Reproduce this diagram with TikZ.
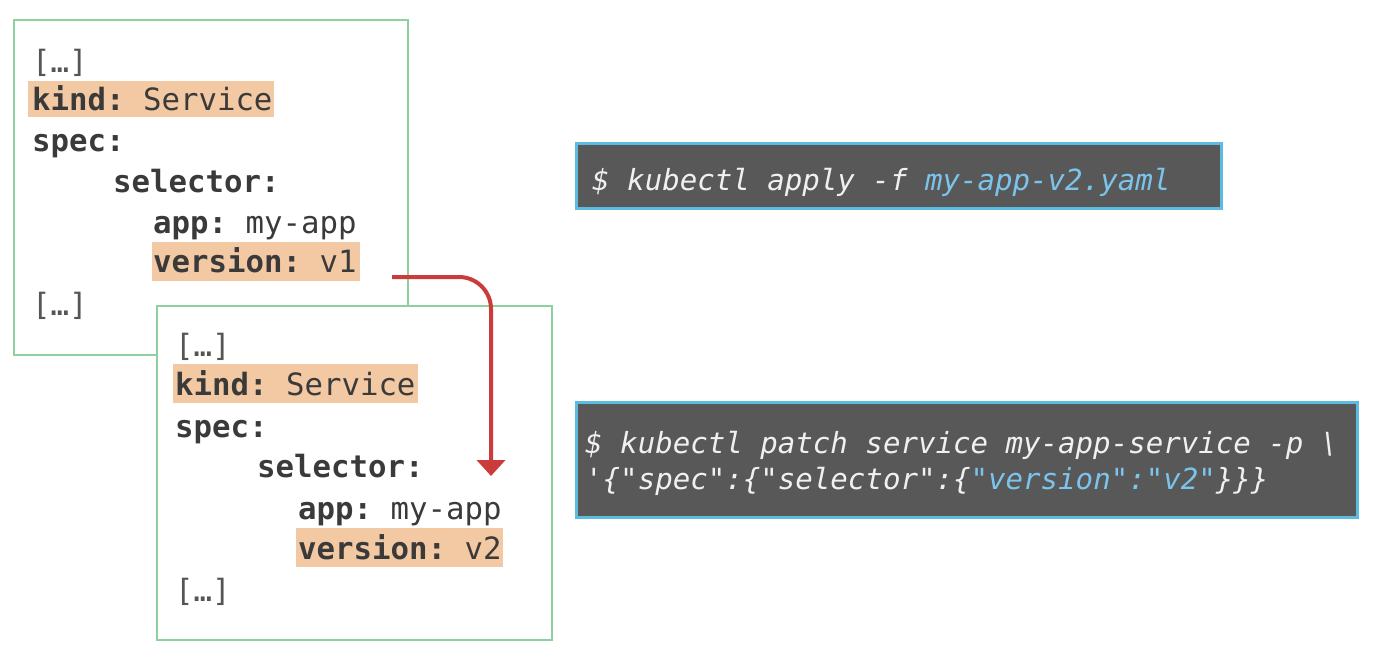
\documentclass[tikz,border=0pt]{standalone}
\usepackage{fontspec}
\setmonofont{DejaVu Sans Mono}
\usetikzlibrary{arrows.meta}
\definecolor{gbox}{HTML}{8FD19E}
\definecolor{peach}{HTML}{F3C9A3}
\definecolor{ytext}{HTML}{3A3A3A}
\definecolor{ygray}{HTML}{555555}
\definecolor{cfill}{HTML}{585858}
\definecolor{cborder}{HTML}{5CBCE0}
\definecolor{ctext}{HTML}{F0F0F0}
\definecolor{cblue}{HTML}{7CC4EC}
\definecolor{rarrow}{HTML}{CC3B3B}
\tikzset{
  yamlbox/.style={draw=gbox, line width=2pt, fill=white, inner sep=0pt},
  yl/.style={anchor=mid west, inner sep=0pt, yshift=-8pt, text=ytext, font=\ttfamily\fontsize{30.7}{36}\selectfont},
  ell/.style={yl, text=ygray},
  cmdbox/.style={draw=cborder, line width=3pt, fill=cfill, inner sep=0pt},
  cl/.style={anchor=mid west, inner sep=0pt, yshift=-8pt, text=ctext, font=\ttfamily\itshape\fontsize{29.1}{34}\selectfont},
  redarrow/.style={draw=rarrow, line width=4pt, rounded corners=32pt, -{Triangle[width=28pt,length=16pt]}}
}
\begin{document}
\begin{tikzpicture}[x=1pt,y=-1pt]
\useasboundingbox[fill=white] (0,0) rectangle (1398,662);
% first YAML box
\node[yamlbox, minimum width=394pt, minimum height=335pt] (box1) at (211,187.5) {};
\fill[peach] (28,81) rectangle (274,117);
\fill[peach] (152,242) rectangle (360,281);
\node[ell] (a1) at (32,62) {[…]};
\node[yl] (a2) at (32,100) {\textbf{kind:} Service};
\node[yl] (a3) at (32,141) {\textbf{spec:}};
\node[yl] (a4) at (113,182) {\textbf{selector:}};
\node[yl] (a5) at (153,223) {\textbf{app:} my-app};
\node[yl] (a6) at (153,262) {\textbf{version:} v1};
\node[ell] (a7) at (32,305) {[…]};
% second YAML box
\node[yamlbox, minimum width=395pt, minimum height=334pt] (box2) at (354.5,473) {};
\fill[peach] (173,364) rectangle (418,403);
\fill[peach] (296,528) rectangle (503,567);
\node[ell] (b1) at (175,346) {[…]};
\node[yl] (b2) at (175,385) {\textbf{kind:} Service};
\node[yl] (b3) at (175,427) {\textbf{spec:}};
\node[yl] (b4) at (257,467) {\textbf{selector:}};
\node[yl] (b5) at (298,509) {\textbf{app:} my-app};
\node[yl] (b6) at (298,549) {\textbf{version:} v2};
\node[ell] (b7) at (175,591) {[…]};
% arrow
\coordinate (as) at (392,277);
\coordinate (ae) at (491,476);
\draw[redarrow] (as) -| (ae);
% command boxes
\node[cmdbox, minimum width=645pt, minimum height=65pt] (c1) at (898.5,175.5) {};
\node[cl] (c1t) at (592,180) {\$ kubectl apply -f \textcolor{cblue}{my-app-v2.yaml}};
\node[cmdbox, minimum width=781pt, minimum height=115pt] (c2) at (966.5,459.5) {};
\node[cl] (c2t) at (585,443) {\$ kubectl patch service my-app-service -p \textbackslash};
\node[cl] (c2u) at (585,479) {'\{"spec":\{"selector":\{\textcolor{cblue}{"version":"v2"}\}\}\}};
\end{tikzpicture}
\end{document}
